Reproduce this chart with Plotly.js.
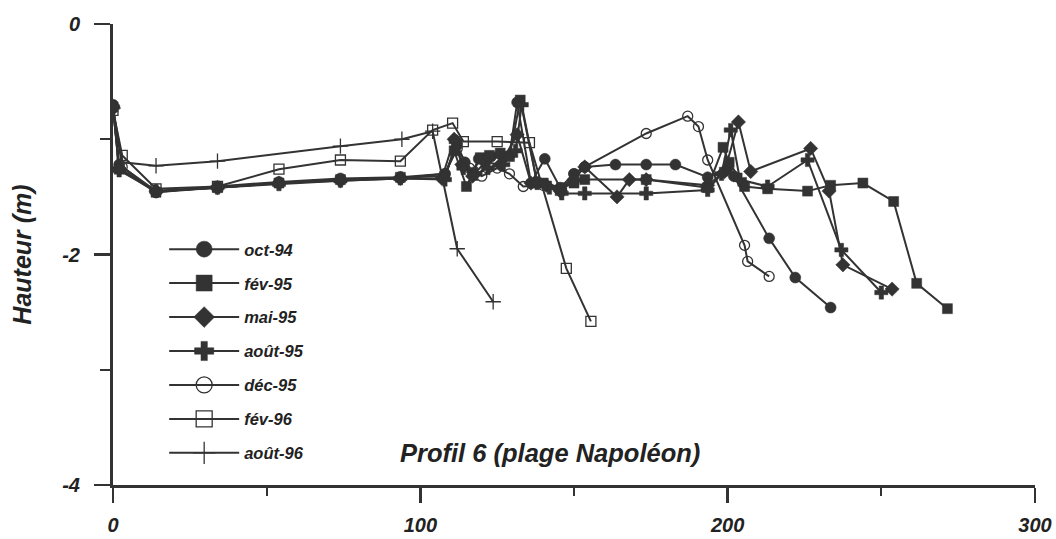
<!DOCTYPE html>
<html>
<head>
<meta charset="utf-8">
<script src="https://cdn.plot.ly/plotly-3.0.1.min.js"></script>
<style>html,body{margin:0;padding:0;background:#fff}#chart{width:1056px;height:539px}</style>
</head>
<body>
<div id="chart"></div>
<script>
// Series names
const seriesNames = ['oct-94', 'fév-95', 'mai-95', 'août-95', 'déc-95', 'fév-96', 'août-96'];

// oct-94 (filled circles)
const oct94X = [0, 2, 14, 34, 54, 74, 93.5, 108, 112, 114.5, 117, 119, 123, 126, 129, 131.5, 136, 140.5, 145.5, 150, 153.5, 163.5, 173.5, 183, 193.5, 200, 202, 213.5, 222, 233.5];
const oct94Y = [-0.70, -1.22, -1.46, -1.41, -1.37, -1.34, -1.33, -1.30, -1.05, -1.20, -1.29, -1.17, -1.15, -1.13, -1.14, -0.68, -1.38, -1.17, -1.42, -1.30, -1.24, -1.22, -1.22, -1.22, -1.33, -1.25, -1.32, -1.86, -2.20, -2.46];

// fév-95 (filled squares)
const fev95X = [0, 2, 14, 34, 54, 74, 93.5, 108, 111, 115, 119.5, 122.5, 126, 129, 132.5, 138, 140, 146, 150, 153.5, 173.5, 193.5, 198.5, 200.5, 205.5, 213, 226, 233.5, 244, 254, 261.5, 271.5];
const fev95Y = [-0.72, -1.26, -1.46, -1.42, -1.38, -1.35, -1.33, -1.32, -1.10, -1.41, -1.16, -1.14, -1.12, -1.15, -0.66, -1.38, -1.38, -1.42, -1.38, -1.35, -1.35, -1.42, -1.07, -1.20, -1.41, -1.43, -1.45, -1.40, -1.38, -1.54, -2.25, -2.47];

// mai-95 (filled diamonds)
const mai95X = [0, 2, 14, 34, 54, 74, 93.5, 107, 111, 113.5, 117, 121, 126, 131.5, 136, 141, 145.5, 150, 153.5, 164, 168, 173.5, 193.5, 199, 203.5, 207.5, 227, 233, 237.5, 253.5];
const mai95Y = [-0.72, -1.25, -1.45, -1.42, -1.38, -1.36, -1.34, -1.34, -1.00, -1.22, -1.32, -1.20, -1.22, -0.96, -1.38, -1.40, -1.45, -1.35, -1.24, -1.50, -1.35, -1.35, -1.40, -1.28, -0.85, -1.28, -1.08, -1.45, -2.09, -2.30];

// août-95 (filled crosses)
const aout95X = [0, 2, 14, 34, 54, 74, 93.5, 108, 111.5, 114, 118, 122, 127, 131, 133, 138, 142, 146, 153.5, 173.5, 193.5, 198, 201, 204, 213, 226, 237, 250];
const aout95Y = [-0.72, -1.27, -1.45, -1.42, -1.39, -1.36, -1.34, -1.35, -1.02, -1.25, -1.30, -1.25, -1.22, -1.10, -0.70, -1.38, -1.42, -1.47, -1.47, -1.47, -1.44, -1.30, -0.92, -1.35, -1.41, -1.18, -1.96, -2.33];

// déc-95 (open circles)
const dec95X = [0, 3, 14, 34, 54, 74, 93.5, 108, 112, 116, 120, 125, 129, 133.5, 140, 146, 150, 153.5, 173.5, 187, 190.5, 193.5, 205.5, 206.5, 213.5];
const dec95Y = [-0.73, -1.24, -1.45, -1.42, -1.38, -1.35, -1.34, -1.30, -1.08, -1.25, -1.32, -1.25, -1.30, -1.41, -1.40, -1.45, -1.30, -1.24, -0.95, -0.80, -0.89, -1.18, -1.92, -2.06, -2.19];

// fév-96 (open squares)
const fev96X = [0, 3, 14, 34, 54, 74, 93.5, 104, 110.5, 114, 125, 135.5, 147.5, 155.5];
const fev96Y = [-0.75, -1.14, -1.43, -1.41, -1.26, -1.18, -1.19, -0.92, -0.86, -1.02, -1.02, -1.03, -2.12, -2.58];

// août-96 (thin crosses)
const aout96X = [0, 3, 14, 34, 74, 94, 104, 112, 123.7];
const aout96Y = [-0.73, -1.20, -1.23, -1.19, -1.06, -1.00, -0.93, -1.95, -2.41];

// Axis ticks
const xTickVals = [0, 100, 200, 300];
const xTickText = ['0', '100', '200', '300'];
const yTickVals = [0, -2, -4];
const yTickText = ['0', '-2', '-4'];

const chartTitle = 'Profil 6 (plage Napoléon)';
const yTitle = 'Hauteur (m)';

const ink = '#333333';
const fontFam = 'Liberation Sans, Arial, sans-serif';

const xs = [oct94X, fev95X, mai95X, aout95X, dec95X, fev96X, aout96X];
const ys = [oct94Y, fev95Y, mai95Y, aout95Y, dec95Y, fev96Y, aout96Y];
const symbols = ['circle', 'square', 'diamond', 'cross', 'circle-open', 'square-open', 'cross-thin-open'];
const sizes = [11, 10, 11, 11, 10, 10, 11];

function markerFor(i, size) {
  return {
    symbol: symbols[i],
    size: size,
    color: ink,
    line: {color: ink, width: (i >= 4 ? 1.3 : 0.5)}
  };
}

// data traces (drawn in the plot)
const dataTraces = seriesNames.map((n, i) => ({
  type: 'scatter',
  mode: 'lines+markers',
  name: n,
  showlegend: false,
  legendgroup: 'g' + i,
  x: xs[i],
  y: ys[i],
  line: {color: ink, width: 2},
  marker: markerFor(i, sizes[i])
}));

// legend entries (no points of their own, larger legend symbols)
const legendTraces = seriesNames.map((n, i) => ({
  type: 'scatter',
  mode: 'lines+markers',
  name: n,
  legendgroup: 'g' + i,
  x: [null],
  y: [null],
  line: {color: ink, width: 2},
  marker: markerFor(i, 16)
}));

const layout = {
  width: 1056,
  height: 539,
  margin: {l: 113, r: 21, t: 24, b: 54},
  paper_bgcolor: '#ffffff',
  plot_bgcolor: '#ffffff',
  showlegend: true,
  font: {family: fontFam, color: '#222', weight: 'bold', style: 'italic'},
  legend: {
    x: 0.0555, y: 0.549, xanchor: 'left', yanchor: 'top',
    bgcolor: 'rgba(0,0,0,0)',
    itemwidth: 70,
    tracegroupgap: 9.5,
    font: {family: fontFam, size: 16.5, color: '#222', weight: 'bold', style: 'italic'}
  },
  xaxis: {
    range: [0, 300],
    tickvals: xTickVals,
    ticktext: xTickText,
    ticks: 'outside', ticklen: 15, tickwidth: 2.5, tickcolor: ink,
    minor: {dtick: 50, ticks: 'outside', ticklen: 8, tickwidth: 2, tickcolor: ink},
    showline: true, linecolor: ink, linewidth: 3,
    showgrid: false, zeroline: false,
    ticklabelstandoff: 5,
    tickfont: {family: fontFam, size: 20, color: '#222', weight: 'bold', style: 'italic'}
  },
  yaxis: {
    range: [-4, 0],
    tickvals: yTickVals,
    ticktext: yTickText,
    ticks: 'outside', ticklen: 16, tickwidth: 2.5, tickcolor: ink,
    minor: {dtick: 1, ticks: 'outside', ticklen: 10, tickwidth: 2, tickcolor: ink},
    showline: true, linecolor: ink, linewidth: 3,
    showgrid: false, zeroline: false,
    ticklabelstandoff: 10,
    tickfont: {family: fontFam, size: 20, color: '#222', weight: 'bold', style: 'italic'},
    title: {text: yTitle, standoff: 24, font: {family: fontFam, size: 25, color: '#222', weight: 'bold', style: 'italic'}}
  },
  annotations: [{
    text: chartTitle,
    xref: 'paper', yref: 'paper',
    x: 0.474, y: 0.07, xanchor: 'center', yanchor: 'middle',
    showarrow: false,
    font: {family: fontFam, size: 25.5, color: '#222', weight: 'bold', style: 'italic'}
  }]
};

Plotly.newPlot('chart', dataTraces.concat(legendTraces), layout, {displayModeBar: false, staticPlot: true});
</script>
</body>
</html>
